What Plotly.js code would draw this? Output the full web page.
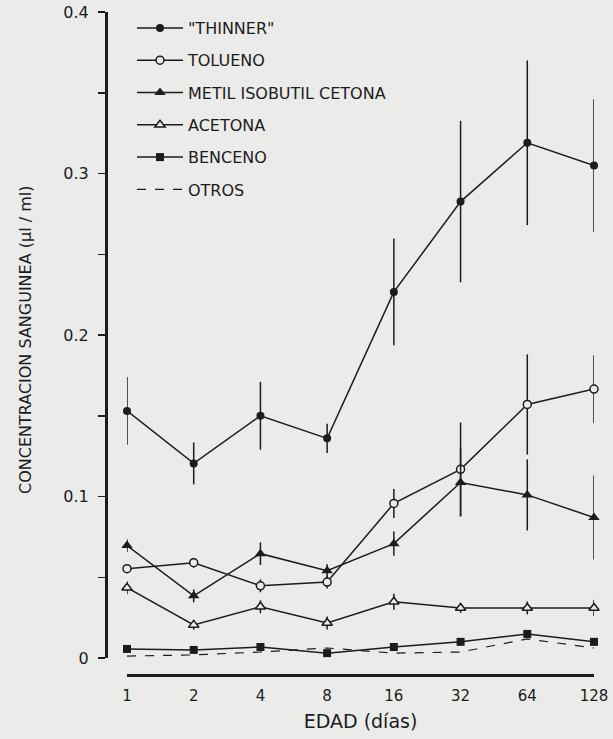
<!DOCTYPE html>
<html>
<head>
<meta charset="utf-8">
<script src="https://cdn.plot.ly/plotly-3.0.1.min.js"></script>
<style>
html,body{margin:0;padding:0;background:#ebebe9;}
#chart{width:613px;height:739px;}
</style>
</head>
<body>
<div id="chart"></div>
<script>
// ---- data ----
const days = [1, 2, 4, 8, 16, 32, 64, 128];
const seriesNames = ['"THINNER"', 'TOLUENO', 'METIL ISOBUTIL CETONA', 'ACETONA', 'BENCENO', 'OTROS'];

const thinner    = [0.153, 0.1205, 0.150, 0.136, 0.2267, 0.2826, 0.319, 0.305];
const thinnerErr = [0.021, 0.013, 0.021, 0.009, 0.033, 0.050, 0.051, 0.041];

const tolueno    = [0.0553, 0.059, 0.0447, 0.047, 0.0957, 0.1168, 0.157, 0.1665];
const toluenoErr = [0.002, 0.003, 0.004, 0.004, 0.009, 0.029, 0.031, 0.021];

const metil      = [0.0696, 0.0385, 0.0646, 0.054, 0.0708, 0.1087, 0.101, 0.087];
const metilErr   = [0.004, 0.004, 0.007, 0.004, 0.0075, 0.021, 0.022, 0.026];

const acetona    = [0.0435, 0.0205, 0.0317, 0.0217, 0.0348, 0.031, 0.031, 0.031];
const acetonaErr = [0.004, 0.003, 0.004, 0.004, 0.005, 0.003, 0.004, 0.005];

const benceno    = [0.0056, 0.005, 0.0068, 0.003, 0.0068, 0.010, 0.0149, 0.010];
const otros      = [0.0012, 0.0019, 0.0037, 0.0062, 0.003, 0.0037, 0.0118, 0.0062];

const xTitle = 'EDAD (días)';
const yTitle = 'CONCENTRACION SANGUINEA (µl / ml)';

// ---- styling ----
const INK = '#1c1c1c';
const BG = '#ebebe9';
const FONT = 'DejaVu Sans, Verdana, sans-serif';

function series(name, y, err, symbol, filled, size, dash) {
  const t = {
    type: 'scatter',
    mode: symbol ? 'lines+markers' : 'lines',
    name: name,
    legendgroup: name,
    x: days,
    y: y,
    cliponaxis: false,
    line: {color: INK, width: 1.5, dash: dash || 'solid'},
  };
  if (symbol) {
    t.marker = {
      symbol: symbol,
      size: size,
      color: filled ? INK : BG,
      line: {color: INK, width: filled ? 0 : 1.5}
    };
  }
  if (err) {
    t.error_y = {type: 'data', array: err, visible: true, color: INK, thickness: 1.5, width: 0};
  }
  return t;
}

const traces = [
  series(seriesNames[0], thinner, thinnerErr, 'circle', true, 8),
  series(seriesNames[1], tolueno, toluenoErr, 'circle', false, 8),
  series(seriesNames[2], metil, metilErr, 'triangle-up', true, 10),
  series(seriesNames[3], acetona, acetonaErr, 'triangle-up', false, 9),
  series(seriesNames[4], benceno, null, 'square', true, 8),
  series(seriesNames[5], otros, null, null, false, 0, 'dash')
];
traces[5].line.width = 1.2;

const W = 613, H = 739;
const layout = {
  width: W, height: H,
  margin: {l: 0, r: 0, t: 0, b: 0},
  paper_bgcolor: BG,
  plot_bgcolor: 'rgba(0,0,0,0)',
  font: {family: FONT, color: INK, size: 14},
  showlegend: true,
  legend: {
    x: 132 / W, y: 1 - 11 / H, xanchor: 'left', yanchor: 'top',
    bgcolor: 'rgba(0,0,0,0)',
    font: {family: FONT, size: 16, color: INK},
    tracegroupgap: 8.5,
    itemwidth: 46
  },
  xaxis: {
    type: 'log',
    domain: [127 / W, 594 / W],
    range: [0, Math.log10(128)],
    anchor: 'free',
    position: (H - 675) / H,
    showline: true, linecolor: INK, linewidth: 3,
    showgrid: false, zeroline: false,
    tickvals: days,
    ticktext: days.map(String),
    ticks: '',
    ticklabelstandoff: 6,
    tickfont: {family: FONT, size: 15, color: INK},
    title: {text: xTitle, font: {family: FONT, size: 19, color: INK}, standoff: 10}
  },
  yaxis: {
    domain: [(H - 658) / H, (H - 12) / H],
    range: [0, 0.4],
    anchor: 'free',
    position: 106 / W,
    showline: true, linecolor: INK, linewidth: 3,
    showgrid: false, zeroline: false,
    tick0: 0, dtick: 0.1,
    ticks: 'outside', ticklen: 7, tickwidth: 1.5, tickcolor: INK,
    ticklabelstandoff: 6,
    minor: {dtick: 0.05, ticks: 'outside', ticklen: 7, tickwidth: 1.5, tickcolor: INK, showgrid: false},
    tickfont: {family: FONT, size: 16, color: INK}
  },
  annotations: [{
    text: yTitle, textangle: -90,
    xref: 'paper', yref: 'paper',
    x: 25 / W, y: 1 - 340 / H,
    xanchor: 'center', yanchor: 'middle',
    showarrow: false,
    font: {family: FONT, size: 16, color: INK}
  }]
};

Plotly.newPlot('chart', traces, layout, {displayModeBar: false, staticPlot: true});
</script>
</body>
</html>
